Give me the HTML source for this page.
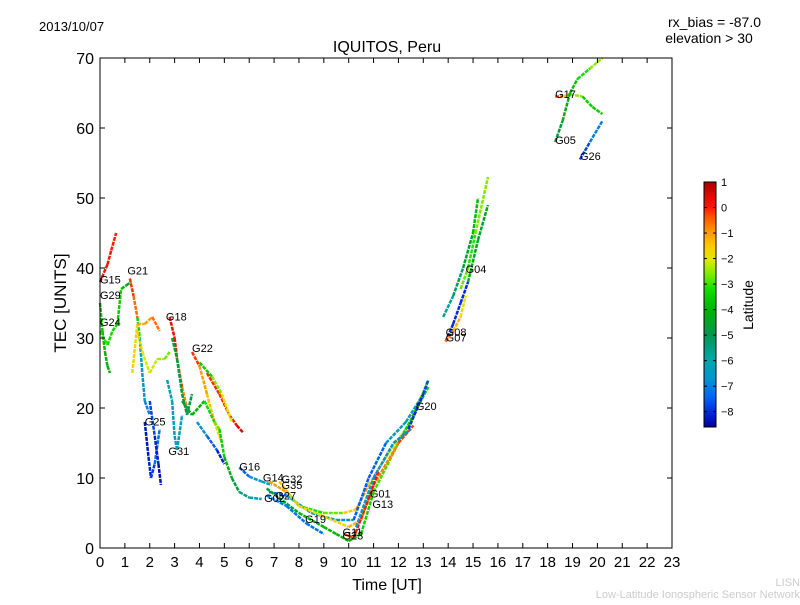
<!DOCTYPE html>
<html><head><meta charset="utf-8"><style>
body{margin:0;background:#fff;}
svg text{font-family:"Liberation Sans",sans-serif;}
</style></head><body>
<svg id="c" width="800" height="600" xmlns="http://www.w3.org/2000/svg">
<rect width="800" height="600" fill="#fff"/>
<text x="39" y="31" font-size="13">2013/10/07</text>
<text x="387" y="52" font-size="16" text-anchor="middle">IQUITOS, Peru</text>
<text x="761" y="27" font-size="14" text-anchor="end">rx_bias = -87.0</text>
<text x="709" y="43" font-size="14" text-anchor="middle">elevation &gt; 30</text>
<text x="66" y="303" font-size="17" text-anchor="middle" transform="rotate(-90 66 303)">TEC [UNITS]</text>
<text x="387" y="590" font-size="16" text-anchor="middle">Time [UT]</text>
<text x="800" y="586" font-size="11" fill="#ccc" text-anchor="end">LISN</text>
<text x="800" y="598" font-size="11" fill="#ccc" text-anchor="end">Low-Latitude Ionospheric Sensor Network</text>
<g id="marks"></g>
<g id="axes"></g>
<g id="cbar"></g>
</svg>
<script>
const xTicks=[0,1,2,3,4,5,6,7,8,9,10,11,12,13,14,15,16,17,18,19,20,21,22,23];
const yTicks=[0,10,20,30,40,50,60,70];
const cTicks=[1,0,-1,-2,-3,-4,-5,-6,-7,-8];
const latMin=-8.6, latMax=1.0;
// tracks: [time, tec, latitude]
const trackG15=[[0,38,0.2],[0.3,40.5,0.1],[0.45,42.5,0],[0.65,45,0]];
const trackG29=[[0,35,-3.5],[0.1,31,-3.8],[0.2,28,-4],[0.3,26,-4.2],[0.4,25,-4.3]];
const trackG24=[[0,31,-3],[0.3,29,-3.2],[0.5,31,-3.3],[0.7,32,-3.4],[0.85,37,-3.6],[1.05,37.5,-4.5],[1.25,38,-4.6]];
const trackG21=[[1.2,38.5,0],[1.35,36,-0.3],[1.5,33,-0.8],[1.6,30,-6],[1.7,25,-6.4],[1.8,21,-6.8],[2.0,19,-7.2]];
const trackG25=[[1.8,18,-8.3],[1.95,13,-8.2],[2.05,10,-8],[2.2,12,-7.6],[2.4,17,-7]];
const trackG25b=[[2.0,21,-7.5],[2.2,16,-8],[2.35,12,-8.3],[2.45,9,-8.4]];
const trackY1=[[1.3,25,-2.2],[1.5,32,-1.2],[1.8,32,-1],[2.1,33,-1],[2.4,31,-0.2]];
const trackY2=[[1.5,31,-1.5],[1.7,28,-1.8],[2.0,25,-2.1],[2.3,27,-2.3],[2.6,27,-2.6],[2.8,28,-2.8]];
const trackG18=[[2.8,33,0.3],[3.0,30,0.3],[3.1,27,0],[3.3,23,-0.5],[3.5,20,-1.2]];
const trackG31=[[2.7,24,-6],[2.9,21,-6.2],[3.0,16,-6.3],[3.1,14,-6.5],[3.3,19,-6]];
const trackGd=[[2.9,30,-4.5],[3.1,27,-4.6],[3.3,22,-4.8],[3.5,19,-5],[3.7,22,-4.8]];
const trackG22=[[3.7,28,0.5],[4.0,26,-0.8],[4.3,22,-1.2],[4.6,18,-1.6],[4.9,15,-2]];
const trackR2=[[4.3,25,0],[4.8,22,-0.2],[5.2,19,0],[5.5,17.5,0.3],[5.75,16.5,0.6]];
const trackGL=[[4.0,26.5,-4],[4.5,24.5,-3],[4.9,22,-2.2],[5.3,18,-1.8]];
const trackGL2=[[3.3,21,-4.5],[3.7,19,-4.4],[4.2,21,-3.6],[4.6,18,-3],[4.8,17,-2.5],[5.0,13,-4.5]];
const trackTB=[[3.9,18,-6.5],[4.3,16,-7],[4.7,14,-8],[5.0,12,-8.3]];
const trackDesc=[[5.0,13,-4],[5.3,10,-4.5],[5.6,8,-5],[6.0,7.2,-6],[6.5,7,-7]];
const trackG16=[[5.6,11.5,-7.8],[6.0,10.2,-7],[6.5,9.5,-6.3],[6.9,9,-6]];
const trackA=[[6.8,9.5,0],[7.5,8,-2],[8.0,6,-3],[9.0,5,-3.5],[9.8,5,-2],[10.3,5.5,-1],[10.8,9,-1],[11.5,13,-2],[12.5,18,-2.5],[13.2,24,-3]];
const trackB=[[6.8,8,-8],[7.5,7.5,-7],[8.5,5,-6],[9.5,4,-6.5],[10.2,4,-7],[10.8,10,-8],[11.5,15,-7],[12.3,18,-6],[13,22,-7]];
const trackC=[[6.7,8.5,-5],[8,5,-4],[9,3,-4],[9.5,2,-4],[10,1,-4],[10.5,2,-4],[11,8,-3],[12,15,-3],[13.2,23,-4]];
const trackD=[[7.2,9.5,-1.5],[8,6,-1.5],[9,4.5,-2],[10,3,-1.5],[10.5,4,-1],[11,9,-1],[12,15,-0.5],[12.6,17.5,0]];
const trackE=[[6.7,7.5,-7],[7.5,6,-7],[8.3,3.5,-7.5],[9,2,-7]];
const trackG11=[[9.8,2,-0.5],[10.2,1.5,0],[10.8,7,0],[11.2,11,0.3]];
const trackT=[[10.3,3,-6],[11,10,-6.5],[11.8,15,-7],[12.5,17,-6.5]];
const trackG20=[[12.4,17,-8],[13,22,-8],[13.2,24,-7.5]];
const trackG08=[[13.9,29.5,-8],[14.2,32,-8],[14.5,35,-8],[14.8,38,-8]];
const trackG07=[[13.9,29.5,0],[14.2,31,-1],[14.5,33,-1.5],[14.7,36,-2.2]];
const trackUT=[[13.8,33,-6],[14.2,36,-5.5],[14.6,40,-5],[15.0,45,-4.2],[15.2,50,-3.5]];
const trackUL=[[14.5,37,-2.5],[14.8,40,-3],[15.1,45,-3.2],[15.6,53,-2]];
const trackUG=[[14.8,38,-4],[15.2,44,-4.5],[15.6,49,-4.5]];
const trackG17=[[18.3,64.5,0.3],[18.6,64.5,-1],[18.9,64.8,-2],[19.4,64.5,-3],[19.8,63,-4],[20.2,62,-3]];
const trackG05=[[18.3,58,-5],[18.6,61,-4.5],[18.9,65,-4],[19.2,67,-3.5],[19.7,68.5,-3],[20.2,70,-2]];
const trackG26=[[19.3,55.5,-8],[19.7,58,-7.5],[20.2,61,-6.5]];
const tracks=[trackG15,trackG29,trackG24,trackG21,trackG25,trackG25b,trackY1,trackY2,trackG18,trackG31,trackGd,trackG22,trackR2,trackGL,trackGL2,trackTB,trackDesc,trackG16,trackA,trackB,trackC,trackD,trackE,trackG11,trackT,trackG20,trackG08,trackG07,trackUT,trackUL,trackUG,trackG17,trackG05,trackG26];
const labelNames=["G15","G29","G24","G21","G18","G22","G25","G31","G16","G14","G32","G35","G02","G27","G19","G11","G23","G01","G13","G20","G04","G08","G07","G17","G05","G26"];
const labelT=[0,0,0,1.1,2.65,3.7,1.8,2.75,5.6,6.55,7.3,7.3,6.6,7.05,8.25,9.75,9.75,10.85,10.95,12.7,14.7,13.9,13.9,18.3,18.3,19.3];
const labelV=[37.8,35.6,31.7,39.1,32.5,28,17.5,13.3,11.1,9.5,9.3,8.4,6.6,6.9,3.6,1.7,1.2,7.2,5.7,19.7,39.3,30.3,29.5,64.3,57.7,55.4];

const W=document.getElementById('c'),NS="http://www.w3.org/2000/svg";
const X0=100,X1=672,Y0=548,Y1=58;
const xs=t=>X0+t*(X1-X0)/23, ys=v=>Y0-v*(Y0-Y1)/70;
// colormap stops (fraction, r,g,b) - style
const cmap=[[0,0,0,150],[0.06,0,40,220],[0.12,0,100,240],[0.2,0,150,210],[0.28,0,165,165],[0.38,0,150,80],[0.48,0,180,0],[0.56,20,220,0],[0.62,120,235,0],[0.68,220,235,0],[0.74,255,200,0],[0.8,255,150,0],[0.86,255,80,0],[0.9,255,20,0],[1,170,0,0]];
function cm(f){f=Math.max(0,Math.min(1,f));
 for(let i=0;i<cmap.length-1;i++){const a=cmap[i],b=cmap[i+1];
  if(f<=b[0]){const u=(f-a[0])/(b[0]-a[0]);
   return `rgb(${Math.round(a[1]+u*(b[1]-a[1]))},${Math.round(a[2]+u*(b[2]-a[2]))},${Math.round(a[3]+u*(b[3]-a[3]))})`;}}
 return 'rgb(170,0,0)';}
const lc=l=>cm((l-latMin)/(latMax-latMin));
function mk(tag,attrs,parent){const e=document.createElementNS(NS,tag);for(const k in attrs)e.setAttribute(k,attrs[k]);parent.appendChild(e);return e;}
const M=document.getElementById('marks');
tracks.forEach((tr,i)=>{
 for(let j=0;j<tr.length-1;j++){
  const a=tr[j],b=tr[j+1];
  const s=mk('line',{x1:xs(a[0]),y1:ys(a[1]),x2:xs(b[0]),y2:ys(b[1]),stroke:lc((a[2]+b[2])/2),'stroke-width':2.5,'stroke-dasharray':'4 1'},M);
  
  
 }
});
labelNames.forEach((n,i)=>{
 const t=mk('text',{x:xs(labelT[i]),y:ys(labelV[i]),'font-size':11},M);
 t.textContent=n;
 
 
});
const A=document.getElementById('axes');
const fr=mk('rect',{x:X0,y:Y1,width:X1-X0,height:Y0-Y1,fill:'none',stroke:'#000','stroke-width':1},A);


xTicks.forEach(t=>{const x=xs(t);
 mk('line',{x1:x,y1:Y0,x2:x,y2:Y0-5,stroke:'#000'},A);mk('line',{x1:x,y1:Y1,x2:x,y2:Y1+5,stroke:'#000'},A);
 const tx=mk('text',{x:x,y:Y0+19,'font-size':15,'text-anchor':'middle'},A);tx.textContent=t;
 
 });
yTicks.forEach(v=>{const y=ys(v);
 mk('line',{x1:X0,y1:y,x2:X0+5,y2:y,stroke:'#000'},A);mk('line',{x1:X1,y1:y,x2:X1-5,y2:y,stroke:'#000'},A);
 const tx=mk('text',{x:X0-6,y:y+6,'font-size':16,'text-anchor':'end'},A);tx.textContent=v;
 
 });
const C=document.getElementById('cbar');
const CX=704,CW=12,CT=182,CB=427;
const cy=l=>CB-(l-latMin)/(latMax-latMin)*(CB-CT);
const defs=mk('defs',{},C);const g=mk('linearGradient',{id:'jg',x1:0,y1:1,x2:0,y2:0},defs);
cmap.forEach(s=>mk('stop',{offset:s[0],'stop-color':`rgb(${s[1]},${s[2]},${s[3]})`},g));
const cr=mk('rect',{x:CX,y:CT,width:CW,height:CB-CT,fill:'url(#jg)',stroke:'#000'},C);


cTicks.forEach(l=>{const y=cy(l);
 mk('line',{x1:CX,y1:y,x2:CX+3,y2:y,stroke:'#000'},C);mk('line',{x1:CX+CW,y1:y,x2:CX+CW-3,y2:y,stroke:'#000'},C);
 const tx=mk('text',{x:CX+CW+5,y:y+4,'font-size':11},C);tx.textContent=l<0?'\u2212'+(-l):l;
 
 });
const ct=mk('text',{x:753,y:305,'font-size':14,'text-anchor':'middle',transform:'rotate(-90 753 305)'},C);
ct.textContent='Latitude';


</script>
</body></html>
